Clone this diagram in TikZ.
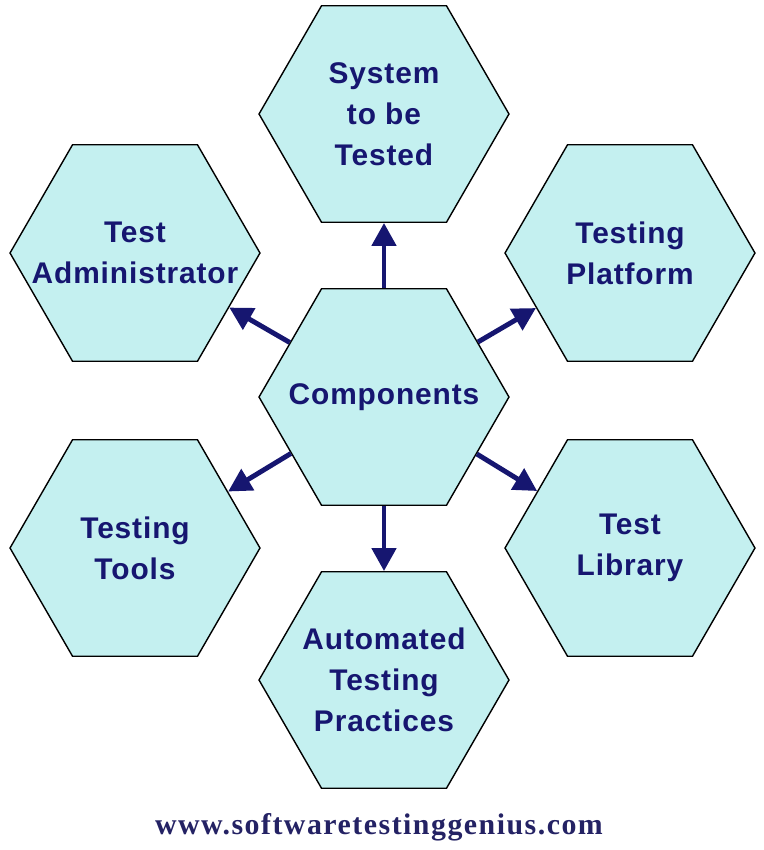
\documentclass[tikz,border=0pt]{standalone}
\usepackage{fontspec}
\setmainfont{Liberation Sans}[LetterSpace=3]
\newfontfamily\urlfont{Liberation Serif}[LetterSpace=5]
\usepackage{tikz}
\usetikzlibrary{positioning,arrows.meta,shapes.geometric}
\definecolor{hexfill}{RGB}{196,240,240}
\definecolor{txtblue}{RGB}{22,22,112}
\definecolor{urlblue}{RGB}{36,34,100}

\begin{document}
\begin{tikzpicture}[x=0.02cm, y=-0.02cm,
  hex/.style={draw, line width=0.8pt, fill=hexfill, regular polygon,
              regular polygon sides=6, minimum size=5cm, inner sep=0pt},
  txt/.style={font=\fontsize{17}{23.3}\selectfont\bfseries, text=txtblue,
              align=center},
  arr/.style={-{Triangle[length=4.6mm, width=4.8mm]}, line width=2.8pt,
              draw=txtblue, fill=txtblue},
]
  \useasboundingbox (0,0) rectangle (764,850);

  % hexagons
  \node[hex, label={[txt]center:System\\to be\\Tested}] (sys) at (384,114) {};
  \node[hex, label={[txt]center:Test\\Administrator}] (admin) at (135,253) {};
  \node[hex, label={[txt]center:Testing\\Platform}] (platform) at (630,253) {};
  \node[hex, label={[txt]center:Components}] (comp) at (384,397) {};
  \node[hex, label={[txt]center:Testing\\Tools}] (tools) at (135,548) {};
  \node[hex, label={[txt]center:Test\\Library}] (library) at (630,548) {};
  \node[hex, label={[txt]center:Automated\\Testing\\Practices}] (auto) at (384,680) {};

  \draw[arr] (comp) -- (sys);
  \draw[arr] (comp) -- (admin);
  \draw[arr] (comp) -- (platform);
  \draw[arr] (comp) -- (tools);
  \draw[arr] (comp) -- (library);
  \draw[arr] (comp) -- (auto);

  \node[font=\urlfont\fontsize{17}{20}\selectfont\bfseries, text=urlblue,
        anchor=base] (url) at (379,834) {www.softwaretestinggenius.com};
\end{tikzpicture}
\end{document}
